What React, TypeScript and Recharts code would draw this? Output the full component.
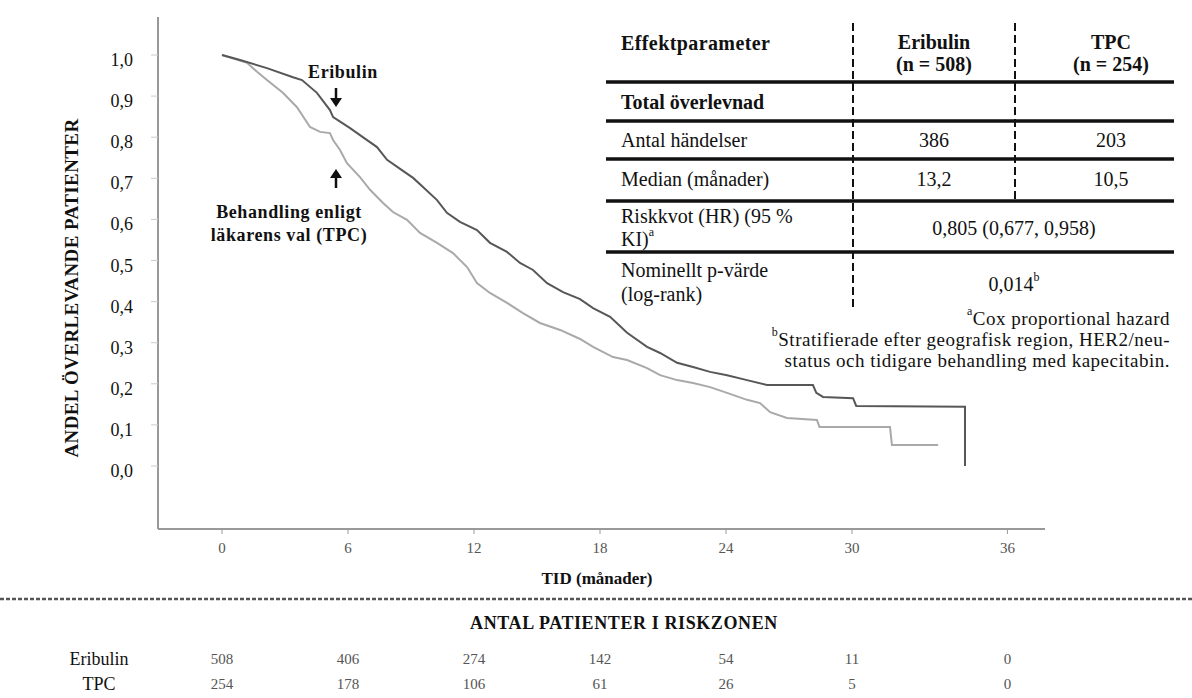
import React from "react"
import { LineChart, Line, XAxis, YAxis } from "recharts"

const FONT = '"Liberation Serif", "Times New Roman", serif'

// Kaplan-Meier curves (months, proportion surviving)
const eribulinMonths = [0, 0.86, 2.14, 3.38, 3.81, 4.52, 5.14, 5.29, 6.1, 6.57, 7.38, 7.86, 8.48, 9.1, 9.57, 10.24, 10.71, 11.33, 12.14, 12.76, 13.57, 14.19, 14.81, 15.48, 16.24, 17.05, 17.67, 18.48, 19.29, 20.24, 20.86, 21.67, 22.43, 23.24, 24.05, 25.0, 25.95, 28.14, 28.3, 28.62, 30.05, 30.2, 35.38, 35.38]
const eribulinSurvival = [1.0, 0.988, 0.968, 0.946, 0.939, 0.908, 0.866, 0.849, 0.822, 0.805, 0.776, 0.745, 0.723, 0.701, 0.679, 0.647, 0.616, 0.594, 0.574, 0.543, 0.521, 0.494, 0.477, 0.445, 0.423, 0.406, 0.384, 0.363, 0.324, 0.29, 0.275, 0.251, 0.241, 0.229, 0.221, 0.209, 0.197, 0.197, 0.178, 0.168, 0.165, 0.146, 0.144, 0.0]

const tpcMonths = [0, 1.19, 1.67, 2.14, 2.9, 3.57, 4.19, 4.67, 5.14, 5.29, 5.62, 5.95, 6.57, 7.05, 7.67, 8.14, 8.81, 9.43, 10.24, 11.0, 11.67, 12.14, 12.76, 13.57, 14.33, 15.14, 16.1, 17.05, 17.67, 18.62, 19.29, 20.24, 20.86, 21.67, 22.43, 23.24, 24.05, 25.0, 25.62, 26.1, 26.9, 28.33, 28.45, 31.81, 31.9, 34.1]
const tpcSurvival = [1.0, 0.981, 0.959, 0.939, 0.908, 0.873, 0.825, 0.813, 0.81, 0.793, 0.769, 0.737, 0.703, 0.672, 0.64, 0.618, 0.599, 0.567, 0.543, 0.518, 0.484, 0.445, 0.421, 0.397, 0.372, 0.348, 0.331, 0.309, 0.29, 0.265, 0.258, 0.238, 0.221, 0.209, 0.202, 0.192, 0.178, 0.161, 0.153, 0.131, 0.117, 0.112, 0.095, 0.095, 0.051, 0.051]

// x ticks: in the figure the "36" tick sits further right than the others
const tickPositions = [0, 6, 12, 18, 24, 30, 37.4]
const tickLabels = ["0", "6", "12", "18", "24", "30", "36"]
const eribulinAtRisk = [508, 406, 274, 142, 54, 11, 0]
const tpcAtRisk = [254, 178, 106, 61, 26, 5, 0]

const yTicks = [0, 0.1, 0.2, 0.3, 0.4, 0.5, 0.6, 0.7, 0.8, 0.9, 1.0]

const eribulinData = eribulinMonths.map((t, i) => ({ t, s: eribulinSurvival[i] }))
const tpcData = tpcMonths.map((t, i) => ({ t, s: tpcSurvival[i] }))

const formatY = (v: number) => v.toFixed(1).replace(".", ",")

function YTick(props: any) {
  const { x, y, payload } = props
  return (
    <text x={x} y={y + 5} textAnchor="end" dominantBaseline="central" fontFamily={FONT} fontSize={18} fill="#111">
      {formatY(payload.value)}
    </text>
  )
}

function XTick(props: any) {
  const { x, y, payload } = props
  const i = tickPositions.findIndex(p => Math.abs(p - payload.value) < 1e-6)
  if (i < 0) return null
  const common = { x, textAnchor: "middle" as const, dominantBaseline: "central" as const, fontFamily: FONT, fontSize: 15, fill: "#555" }
  return (
    <g>
      <text {...common} y={y + 7}>{tickLabels[i]}</text>
      <text {...common} y={y + 118}>{eribulinAtRisk[i]}</text>
      <text {...common} y={y + 143}>{tpcAtRisk[i]}</text>
    </g>
  )
}

function Sup({ c }: { c: string }) {
  return <tspan fontSize={12} dy={-7}>{c}</tspan>
}

function Overlay() {
  const t = { fontFamily: FONT, fontSize: 20, fill: "#111", dominantBaseline: "central" as const }
  const b = { ...t, fontWeight: 700 }
  const f = { ...t, fontSize: 19, letterSpacing: 0.5, textAnchor: "end" as const }
  const hLines = [82, 121, 159, 201, 252]
  return (
    <svg width={1192} height={698} style={{ position: "absolute", left: 0, top: 0, pointerEvents: "none" }}>
      {/* y axis title */}
      <text x={71} y={288} transform="rotate(-90, 71, 288)" textAnchor="middle" dominantBaseline="central"
        fontFamily={FONT} fontSize={19} fontWeight={700} letterSpacing={0.4} fill="#111">
        ANDEL ÖVERLEVANDE PATIENTER
      </text>

      {/* curve annotations */}
      <text x={343} y={72} textAnchor="middle" dominantBaseline="central" fontFamily={FONT} fontSize={18} fontWeight={700} letterSpacing={0.6} fill="#111">Eribulin</text>
      <line x1={336} y1={88} x2={336} y2={100} stroke="#111" strokeWidth={2.5} />
      <path d="M330,98 L342,98 L336,107 Z" fill="#111" />
      <line x1={336} y1={188} x2={336} y2={176} stroke="#111" strokeWidth={2.5} />
      <path d="M330,178 L342,178 L336,169 Z" fill="#111" />
      <text x={289} y={212} textAnchor="middle" dominantBaseline="central" fontFamily={FONT} fontSize={18} fontWeight={700} letterSpacing={0.6} fill="#111">Behandling enligt</text>
      <text x={289} y={235} textAnchor="middle" dominantBaseline="central" fontFamily={FONT} fontSize={18} fontWeight={700} letterSpacing={0.6} fill="#111">läkarens val (TPC)</text>

      {/* results table */}
      <line x1={853} y1={23} x2={853} y2={308} stroke="#111" strokeWidth={2} strokeDasharray="8 4" />
      <line x1={1015} y1={23} x2={1015} y2={201} stroke="#111" strokeWidth={2} strokeDasharray="8 4" />
      {hLines.map(y => (
        <line key={y} x1={606} y1={y} x2={1174} y2={y} stroke="#111" strokeWidth={3.5} />
      ))}
      <text {...b} x={621} y={43} letterSpacing={0.4}>Effektparameter</text>
      <text {...b} x={934} y={42} textAnchor="middle">Eribulin</text>
      <text {...b} x={934} y={64} textAnchor="middle">(n = 508)</text>
      <text {...b} x={1111} y={42} textAnchor="middle">TPC</text>
      <text {...b} x={1111} y={64} textAnchor="middle">(n = 254)</text>
      <text {...b} x={621} y={102}>Total överlevnad</text>
      <text {...t} x={621} y={140}>Antal händelser</text>
      <text {...t} x={934} y={140} textAnchor="middle">386</text>
      <text {...t} x={1111} y={140} textAnchor="middle">203</text>
      <text {...t} x={621} y={179}>Median (månader)</text>
      <text {...t} x={934} y={179} textAnchor="middle">13,2</text>
      <text {...t} x={1111} y={179} textAnchor="middle">10,5</text>
      <text {...t} x={621} y={216}>Riskkvot (HR) (95 %</text>
      <text {...t} x={621} y={239}>KI)<Sup c="a" /></text>
      <text {...t} x={1014} y={228} textAnchor="middle">0,805 (0,677, 0,958)</text>
      <text {...t} x={621} y={270}>Nominellt p-värde</text>
      <text {...t} x={621} y={294}>(log-rank)</text>
      <text {...t} x={1014} y={284} textAnchor="middle">0,014<Sup c="b" /></text>

      {/* footnotes */}
      <text {...f} x={1170} y={318}><Sup c="a" /><tspan dy={7}>Cox proportional hazard</tspan></text>
      <text {...f} x={1170} y={339}><Sup c="b" /><tspan dy={7}>Stratifierade efter geografisk region, HER2/neu-</tspan></text>
      <text {...f} x={1170} y={360}>status och tidigare behandling med kapecitabin.</text>

      {/* x axis title and number-at-risk block */}
      <text {...b} fontSize={17} x={597} y={578} textAnchor="middle">TID (månader)</text>
      <line x1={0} y1={599} x2={1192} y2={599} stroke="#555" strokeWidth={2.5} strokeDasharray="4 2" />
      <text {...b} fontSize={18} letterSpacing={0.6} x={624} y={623} textAnchor="middle">ANTAL PATIENTER I RISKZONEN</text>
      <text {...t} fontSize={18} x={99} y={659} textAnchor="middle">Eribulin</text>
      <text {...t} fontSize={18} x={99} y={684} textAnchor="middle">TPC</text>
    </svg>
  )
}

export default function App() {
  return (
    <div style={{ position: "relative", width: 1192, height: 698, background: "#fff", overflow: "hidden" }}>
      <style>{"body{margin:0}"}</style>
      <LineChart width={1192} height={698} margin={{ top: 17, right: 147, bottom: 0, left: 0 }}>
        <XAxis
          dataKey="t"
          type="number"
          domain={[-3.048, 39.19]}
          allowDataOverflow
          ticks={tickPositions}
          interval={0}
          height={169}
          tickSize={5}
          tickMargin={7}
          tick={<XTick />}
          axisLine={{ stroke: "#999", strokeWidth: 2 }}
          tickLine={{ stroke: "#999", strokeWidth: 1 }}
        />
        <YAxis
          type="number"
          domain={[-0.1533, 1.0925]}
          allowDataOverflow
          ticks={yTicks}
          interval={0}
          width={158}
          tickSize={7}
          tickMargin={18}
          tick={<YTick />}
          axisLine={{ stroke: "#999", strokeWidth: 2 }}
          tickLine={{ stroke: "#ccc", strokeWidth: 1 }}
        />
        <Line data={tpcData} dataKey="s" type="linear" stroke="#a9a9a9" strokeWidth={2} dot={false} activeDot={false} isAnimationActive={false} />
        <Line data={eribulinData} dataKey="s" type="linear" stroke="#575757" strokeWidth={2} dot={false} activeDot={false} isAnimationActive={false} />
      </LineChart>
      <Overlay />
    </div>
  )
}
